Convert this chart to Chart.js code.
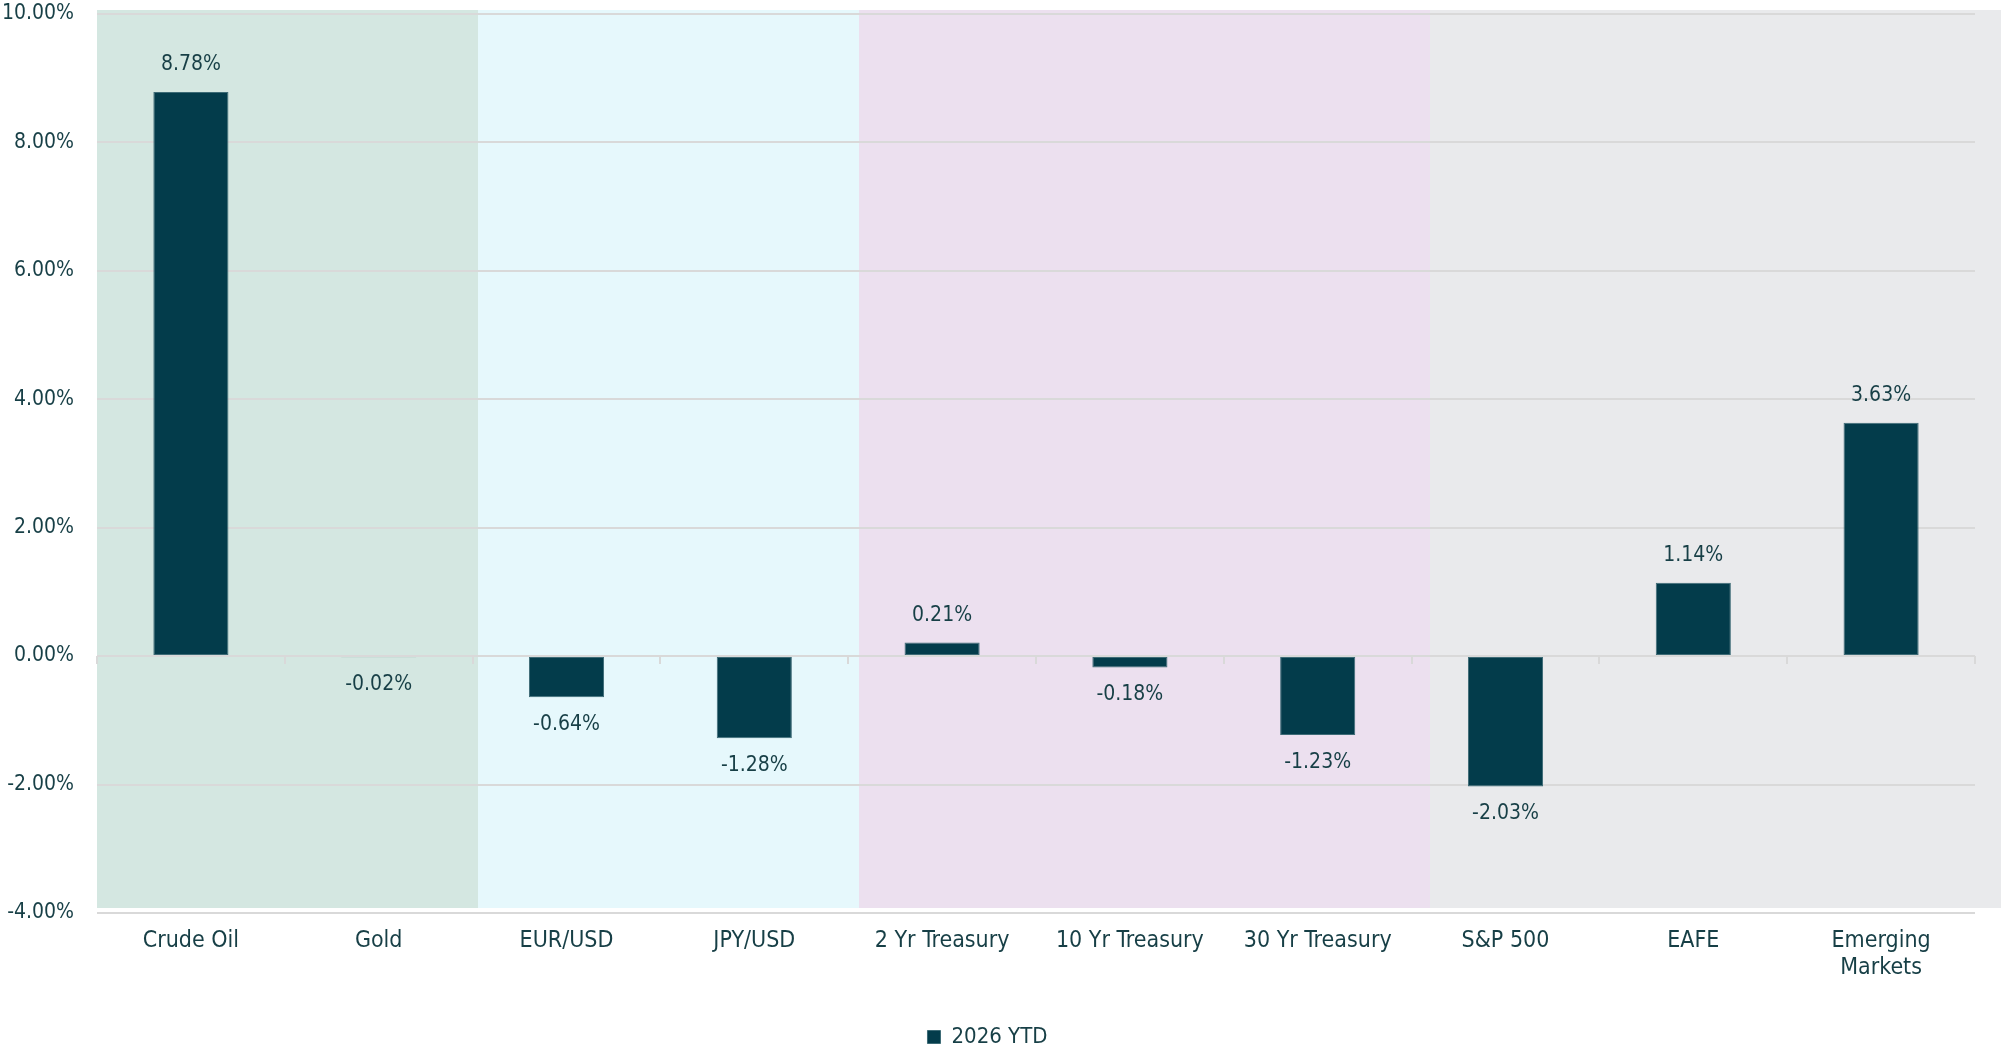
<!DOCTYPE html>
<html>
<head>
<meta charset="utf-8">
<script src="https://cdn.jsdelivr.net/npm/chart.js@4.4.1/dist/chart.umd.min.js"></script>
<style>
  html, body { margin: 0; padding: 0; background: #fff; }
  #wrap { width: 2001px; height: 1046px; }
</style>
</head>
<body>
<div id="wrap"><canvas id="ytdChart" width="2001" height="1046"></canvas></div>
<script>
// data
const categories = ['Crude Oil', 'Gold', 'EUR/USD', 'JPY/USD', '2 Yr Treasury', '10 Yr Treasury',
  '30 Yr Treasury', 'S&P 500', 'EAFE', ['Emerging', 'Markets']];
const ytd2026 = [8.78, -0.02, -0.64, -1.28, 0.21, -0.18, -1.23, -2.03, 1.14, 3.63];
const seriesName = '2026 YTD';
const yMin = -4, yMax = 10, yStep = 2;

// background groups: commodities, currencies, treasuries, equities
const bandColors = ['#d4e7e1', '#d4e7e1', '#e6f8fc', '#e6f8fc', '#ece0ef', '#ece0ef', '#ece0ef',
  '#e9eaec', '#e9eaec', '#e9eaec'];

const fontFamily = "'DejaVu Sans Condensed', 'DejaVu Sans', sans-serif";
const textColor = '#173f46';
const barColor = '#033c4b';
const gridColor = '#d9d9d9';

const fmt = v => v.toFixed(2) + '%';

// shaded group bands behind the grid
const bandsPlugin = {
  id: 'bands',
  beforeDraw(chart) {
    const { ctx, chartArea, scales } = chart;
    const unit = (chart.width - chartArea.left) / categories.length;
    const top = Math.round(scales.y.getPixelForValue(yMax) - 4);
    const bottom = Math.round(scales.y.getPixelForValue(yMin) - 5);
    ctx.save();
    bandColors.forEach((c, i) => {
      const l = Math.round(chartArea.left + unit * i);
      const r = Math.round(chartArea.left + unit * (i + 1));
      ctx.fillStyle = c;
      ctx.fillRect(l, top, r - l, bottom - top);
    });
    ctx.restore();
  }
};

// small category ticks on the zero line
const zeroTicksPlugin = {
  id: 'zeroTicks',
  beforeDatasetsDraw(chart) {
    const { ctx, scales } = chart;
    const x = scales.x, y0 = scales.y.getPixelForValue(0);
    const half = (x.getPixelForValue(1) - x.getPixelForValue(0)) / 2;
    ctx.save();
    ctx.strokeStyle = gridColor;
    ctx.lineWidth = 2;
    for (let i = 0; i <= categories.length; i++) {
      const px = Math.round(x.getPixelForValue(i) - half);
      ctx.beginPath();
      ctx.moveTo(px, y0);
      ctx.lineTo(px, y0 + 8);
      ctx.stroke();
    }
    ctx.restore();
  }
};

// value labels above / below bars
const valueLabelsPlugin = {
  id: 'valueLabels',
  afterDatasetsDraw(chart) {
    const { ctx } = chart;
    const meta = chart.getDatasetMeta(0);
    ctx.save();
    ctx.font = '21px ' + fontFamily;
    ctx.fillStyle = textColor;
    ctx.textAlign = 'center';
    ctx.textBaseline = 'middle';
    meta.data.forEach((bar, i) => {
      const v = ytd2026[i];
      const y = v >= 0 ? bar.y - 27 : bar.y + 27;
      ctx.fillText(fmt(v), bar.x, y);
    });
    ctx.restore();
  }
};

new Chart(document.getElementById('ytdChart'), {
  type: 'bar',
  data: {
    labels: categories,
    datasets: [{
      label: seriesName,
      data: ytd2026,
      backgroundColor: barColor,
      borderColor: '#3d6b76',
      borderWidth: 1,
      borderSkipped: false,
      barPercentage: 0.4,
      categoryPercentage: 1.0
    }]
  },
  options: {
    responsive: false,
    devicePixelRatio: 1,
    animation: false,
    layout: { padding: { top: 0, right: 26, bottom: -12, left: 0 } },
    plugins: {
      legend: {
        position: 'bottom',
        labels: {
          color: textColor,
          font: { family: fontFamily, size: 22 },
          boxWidth: 13,
          boxHeight: 13,
          padding: 10
        }
      },
      tooltip: { enabled: false }
    },
    scales: {
      x: {
        grid: { display: false },
        border: { display: false },
        ticks: {
          color: textColor,
          font: { family: fontFamily, size: 23 },
          padding: 6,
          maxRotation: 0,
          autoSkip: false
        },
        afterFit(scale) { scale.height = 103; }
      },
      y: {
        min: yMin,
        max: yMax,
        grid: { color: gridColor, lineWidth: 2, drawTicks: true, tickLength: 22, tickColor: 'rgba(0,0,0,0)' },
        border: { display: false },
        ticks: {
          stepSize: yStep,
          color: textColor,
          font: { family: fontFamily, size: 21 },
          padding: 1,
          callback: v => fmt(v)
        },
        afterFit(scale) { scale.width = 97; }
      }
    }
  },
  plugins: [bandsPlugin, zeroTicksPlugin, valueLabelsPlugin]
});
</script>
</body>
</html>
